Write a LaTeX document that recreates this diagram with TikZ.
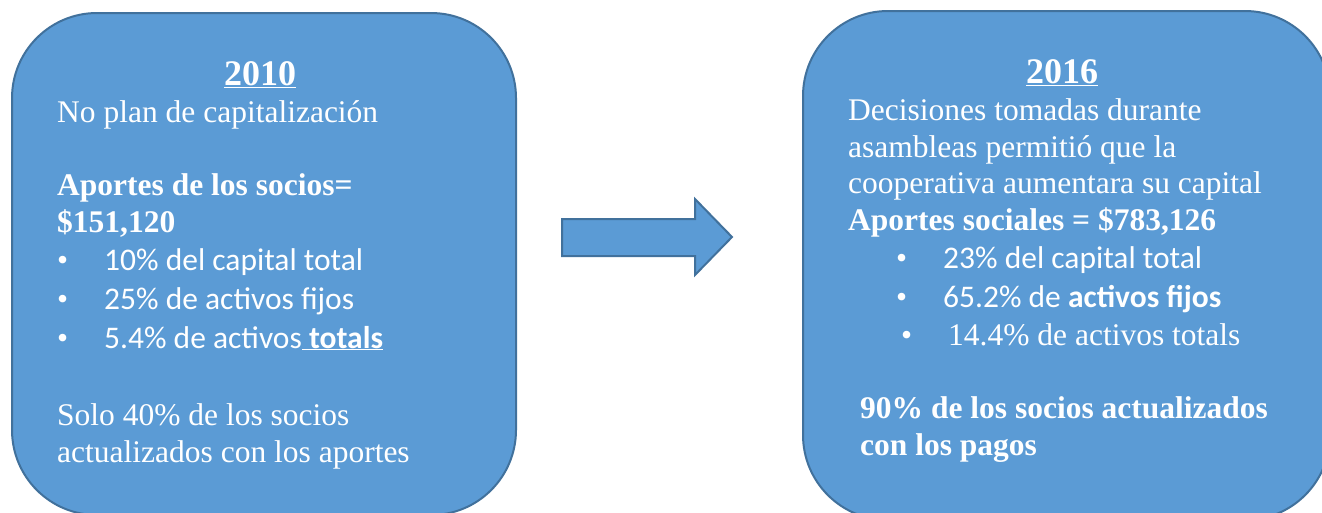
\documentclass[tikz,border=0pt]{standalone}
\usepackage{fontspec}
\setmainfont{Liberation Serif}
\newfontfamily\calfont{Carlito}
\definecolor{boxfill}{HTML}{5B9BD5}
\definecolor{boxline}{HTML}{41719C}
\tikzset{
  card/.style={draw=boxline, fill=boxfill, line width=2pt, rounded corners=85pt},
  blockarrow/.style={draw=boxline, fill=boxfill, line width=2pt},
  line/.style={anchor=base west, inner sep=0pt, text=white, font=\fontsize{31.5}{37}\selectfont},
  cal/.style={line, font=\calfont\fontsize{31.5}{37}\selectfont},
  year/.style={anchor=base, inner sep=0pt, text=white, font=\bfseries\fontsize{36}{40}\selectfont},
}
\begin{document}
\begin{tikzpicture}[x=1pt, y=-1pt]
    \useasboundingbox (0,0) rectangle (1322,512);
    \clip (0,0) rectangle (1322,512);
    % boxes
    \draw[card] (12,13) rectangle (516,515);
    \draw[card] (803,11) rectangle (1330,520);
    \draw[blockarrow] (562,219) -- (695,219) -- (695,199) -- (732,237)
        -- (695,275) -- (695,256) -- (562,256) -- cycle;
    % 2010
    \node[year] (y2010) at (260,85) {\underline{2010}};
    \node[line] (noplan) at (57,122) {No plan de capitalización};
    \node[line] (aportes) at (57,195) {\bfseries Aportes de los socios=};
    \node[line] (monto) at (57,232) {\bfseries \$151,120};
    \node[line] (ldot1) at (57,270) {•};
    \node[cal] (lb1) at (104,270) {10\% del capital total};
    \node[line] (ldot2) at (57,309) {•};
    \node[cal] (lb2) at (104,309) {25\% de activos fijos};
    \node[line] (ldot3) at (57,348) {•};
    \node[cal] (lb3) at (104,348) {5.4\% de activos\underline{ \bfseries totals}};
    \node[line] (solo) at (57,425) {Solo 40\% de los socios};
    \node[line] (solo2) at (57,462) {actualizados con los aportes};
    % 2016
    \node[year] (y2016) at (1062,83) {\underline{2016}};
    \node[line] (dec1) at (848,120) {Decisiones tomadas durante};
    \node[line] (dec2) at (848,157) {asambleas permitió que la};
    \node[line] (dec3) at (848,193) {cooperativa aumentara su capital};
    \node[line] (sociales) at (848,230) {\bfseries Aportes sociales = \$783,126};
    \node[line] (rdot1) at (896,268) {•};
    \node[cal] (rb1) at (943,268) {23\% del capital total};
    \node[line] (rdot2) at (896,307) {•};
    \node[cal] (rb2) at (943,307) {65.2\% de \bfseries activos fijos};
    \node[line] (rdot3) at (901,345) {•};
    \node[line] (rb3) at (948,345) {14.4\% de activos totals};
    \node[line] (pagos) at (860,418) {\bfseries 90\% de los socios actualizados};
    \node[line] (pagos2) at (860,455) {\bfseries con los pagos};
\end{tikzpicture}
\end{document}
